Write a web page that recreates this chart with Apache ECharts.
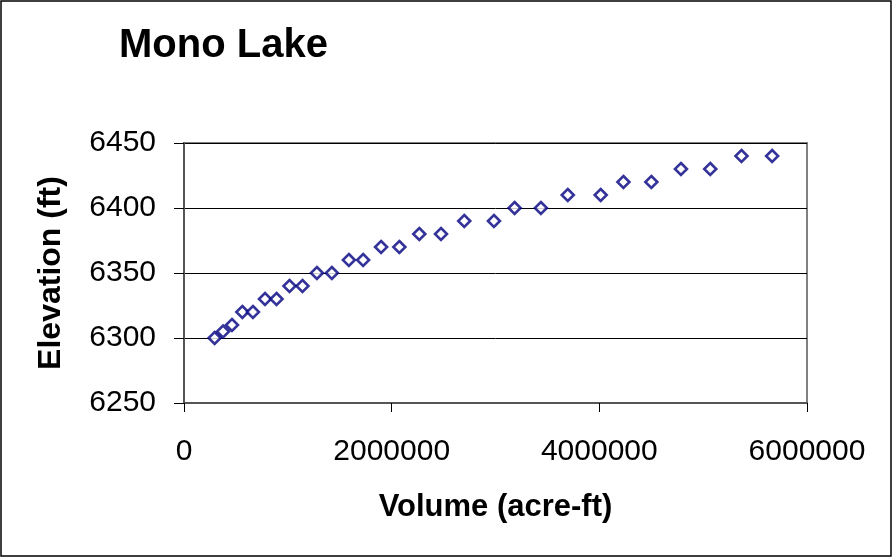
<!DOCTYPE html>
<html>
<head>
<meta charset="utf-8">
<title>Mono Lake</title>
<script src="https://cdn.jsdelivr.net/npm/echarts@6/dist/echarts.min.js"></script>
<style>
    html, body { margin: 0; padding: 0; background: #fff; }
    #chart { width: 894px; height: 559px; }
</style>
</head>
<body>
<div id="chart"></div>
<script>
// Mono Lake — curva cota x volume (dispersão, marcadores losango vazados)
const FONT = '"Liberation Sans", Arial, sans-serif';

const volumes = [
    295000, 376000, 462000, 562000, 664000, 780000, 891000, 1016000, 1141000, 1280000,
    1424000, 1588000, 1725000, 1898000, 2074000, 2266000, 2475000, 2699000, 2985000, 3184000,
    3437000, 3696000, 4013000, 4232000, 4501000, 4786000, 5068000, 5369000, 5664000
];
const elevations = [
    6300, 6305, 6310, 6320, 6320, 6330, 6330, 6340, 6340, 6350,
    6350, 6360, 6360, 6370, 6370, 6380, 6380, 6390, 6390, 6400,
    6400, 6410, 6410, 6420, 6420, 6430, 6430, 6440, 6440
];
const xTicks = [0, 2000000, 4000000, 6000000];
const yTicks = [6250, 6300, 6350, 6400, 6450];

const points = volumes.map((v, i) => [v, elevations[i]]);

const chart = echarts.init(document.getElementById('chart'), null, { renderer: 'canvas' });
chart.setOption({
    animation: false,
    backgroundColor: '#fff',
    textStyle: { fontFamily: FONT },
    title: {
        text: 'Mono Lake',
        left: 114,
        top: 21,
        textStyle: { fontFamily: FONT, fontSize: 40, fontWeight: 'bold', color: '#000' }
    },
    graphic: [{
        type: 'rect',
        shape: { x: 1, y: 1, width: 890, height: 555 },
        style: { fill: 'none', stroke: '#000', lineWidth: 1.5 },
        silent: true
    }],
    grid: {
        left: 184, right: 87, top: 143, bottom: 156,
        show: true, borderColor: '#808080', borderWidth: 2, backgroundColor: '#fff'
    },
    xAxis: {
        type: 'value',
        min: xTicks[0],
        max: xTicks[xTicks.length - 1],
        interval: 2000000,
        name: 'Volume (acre-ft)',
        nameLocation: 'middle',
        nameGap: 89,
        nameTextStyle: { fontFamily: FONT, fontSize: 31, fontWeight: 'bold', color: '#000' },
        axisLine: { show: true, lineStyle: { color: '#555', width: 2 } },
        axisTick: { show: true, inside: false, length: 9, lineStyle: { color: '#000', width: 1 } },
        axisLabel: { fontFamily: FONT, fontSize: 30, color: '#000', margin: 34, formatter: v => String(v) },
        splitLine: { show: false }
    },
    yAxis: {
        type: 'value',
        min: yTicks[0],
        max: yTicks[yTicks.length - 1],
        interval: 50,
        name: 'Elevation (ft)',
        nameLocation: 'middle',
        nameGap: 117,
        nameTextStyle: { fontFamily: FONT, fontSize: 32, fontWeight: 'bold', color: '#000' },
        axisLine: { show: true, lineStyle: { color: '#555', width: 2 } },
        axisTick: { show: true, inside: false, length: 10, lineStyle: { color: '#000', width: 1 } },
        axisLabel: { fontFamily: FONT, fontSize: 30, color: '#000', margin: 28, formatter: v => String(v) },
        splitLine: { show: true, lineStyle: { color: '#000', width: 1 } }
    },
    series: [{
        type: 'scatter',
        data: points,
        symbol: 'diamond',
        symbolSize: 12,
        itemStyle: { color: '#fff', borderColor: '#000080', borderWidth: 2.6 }
    }]
});
</script>
</body>
</html>
